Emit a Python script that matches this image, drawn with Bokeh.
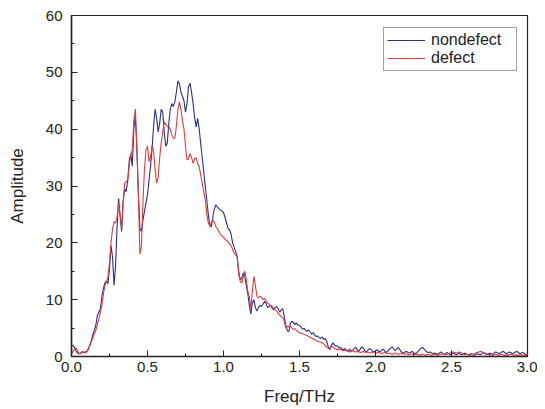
from bokeh.plotting import figure
from bokeh.models import SingleIntervalTicker, NumeralTickFormatter, Legend, LegendItem, Range1d
from bokeh.embed import file_html
from bokeh.resources import INLINE

# Frequency grid (THz), 0.01 step
freq = [round(i * 0.01, 2) for i in range(301)]

nondefect = [
    2.0, 1.9, 1.6, 1.0, 0.6, 0.5, 0.6, 0.8, 0.7, 0.8,
    0.9, 1.3, 2.0, 2.8, 3.8, 4.6, 5.5, 7.2, 7.8, 8.4,
    10.5, 12.0, 13.0, 13.3, 12.8, 15.5, 19.5, 17.5, 12.5, 16.0,
    23.0, 27.8, 24.5, 22.0, 27.5, 29.5, 29.0, 31.0, 34.5, 35.7,
    33.5, 40.0, 42.5, 36.5, 29.0, 22.5, 22.0, 24.0, 25.5, 27.0,
    28.5, 31.0, 33.5, 36.5, 40.5, 43.5, 42.0, 39.5, 41.0, 43.5,
    43.0, 39.5, 37.0, 37.5, 41.0, 43.5, 44.5, 44.0, 44.8, 46.5,
    48.5, 48.0, 46.5, 45.8, 45.0, 43.0, 44.5, 47.5, 48.1, 46.5,
    44.5, 42.0, 40.4, 41.9, 40.0, 37.5, 35.0, 32.5, 30.0, 27.5,
    25.0, 23.0, 22.8, 24.5, 26.0, 26.7, 26.3, 26.0, 25.8, 25.6,
    25.3, 24.5, 23.5, 22.5, 22.3, 21.5, 20.0, 19.2, 18.5, 17.5,
    15.0, 13.5, 13.8, 14.7, 14.2, 12.5, 11.0, 9.0, 7.5, 9.5,
    10.0, 8.6, 8.0, 8.6, 9.0, 8.8, 9.2, 9.7, 9.3, 8.6,
    8.8, 9.0, 8.5, 8.2, 8.6, 8.8, 8.4, 7.8, 8.2, 8.4,
    7.0, 5.5, 4.5, 4.4, 5.8, 6.2, 6.0, 5.6, 5.9, 5.5,
    5.5, 5.2, 4.8, 5.0, 4.6, 4.4, 4.7, 4.3, 4.0, 4.2,
    3.8, 3.5, 3.6, 3.3, 3.2, 3.4, 3.0, 3.1, 2.6, 1.6,
    1.2, 2.0, 2.4, 2.0, 1.8, 1.9, 1.5, 1.6, 1.3, 1.2,
    1.4, 1.1, 1.0, 1.3, 0.9, 1.1, 1.4, 1.6, 1.2, 0.9,
    1.3, 1.7, 1.5, 1.0, 0.8, 1.1, 1.4, 1.2, 0.9, 0.8,
    1.0, 1.2, 0.9, 0.8, 1.1, 1.3, 1.0, 0.7, 0.9, 1.2,
    1.5, 1.7, 1.3, 1.0, 1.4, 1.6, 1.2, 0.8, 0.6, 0.7,
    0.9, 0.8, 0.6, 0.7, 0.9, 0.7, 0.5, 0.6, 0.9, 1.2,
    1.5, 1.6, 1.3, 1.0, 0.8, 0.7, 0.8, 0.6, 0.5, 0.6,
    0.5, 0.4, 0.6, 0.8, 0.6, 0.4, 0.5, 0.7, 0.5, 0.3,
    0.4, 0.6, 0.5, 0.3, 0.4, 0.6, 0.4, 0.3, 0.5, 0.6,
    0.4, 0.3, 0.4, 0.5, 0.3, 0.2, 0.4, 0.5, 0.4, 0.3,
    0.5, 0.7, 0.5, 0.3, 0.4, 0.6, 0.5, 0.4, 0.6, 0.8,
    0.7, 0.5, 0.6, 0.8, 0.9, 0.7, 0.5, 0.6, 0.8, 0.7,
    0.5, 0.6, 0.8, 0.9, 0.7, 0.5, 0.6, 0.7, 0.5, 0.3,
    0.2,
]

defect = [
    0.5, 0.9, 1.3, 1.5, 1.0, 0.5, 0.5, 0.9, 0.8, 0.6,
    0.8, 1.2, 1.8, 2.6, 3.2, 4.0, 4.6, 5.6, 6.6, 7.8,
    9.0, 11.0, 12.5, 13.2, 14.0, 16.5, 20.0, 22.5, 23.7, 23.5,
    24.5, 27.0, 25.0, 22.7, 27.0, 30.5, 30.8, 31.0, 33.5, 35.5,
    36.3, 41.5, 43.6, 37.0, 28.5, 18.0, 19.5, 27.0, 33.0, 36.3,
    37.0, 34.3, 35.0, 37.2, 36.0, 33.0, 30.5, 31.5, 35.0, 37.5,
    39.5, 41.3, 40.8, 40.5, 40.5, 40.0, 39.0, 38.4, 38.4, 40.5,
    43.5, 44.8, 43.5, 41.5, 40.0, 37.0, 34.6, 34.8, 35.7, 35.0,
    34.0, 34.8, 35.0, 34.0, 33.4, 32.0, 30.5, 29.0, 27.5, 25.0,
    23.5, 23.0, 23.5, 24.0, 23.6, 22.8, 22.5, 22.0, 21.5, 21.2,
    21.0, 20.6, 20.4, 20.2, 19.8, 19.5, 18.8, 18.2, 17.9, 17.5,
    14.5, 13.2, 12.9, 14.0, 15.0, 13.5, 11.5, 10.5, 8.5, 11.5,
    14.1, 12.5, 10.6, 10.3, 10.6, 10.4, 10.0, 10.2, 9.8, 9.4,
    9.2, 9.0, 8.8, 8.5, 8.2, 8.0, 7.5, 7.3, 7.0, 6.8,
    6.2, 5.0, 5.3, 5.2, 5.4, 5.0, 4.8, 4.9, 4.6, 4.4,
    4.2, 4.1, 4.0, 3.9, 3.8, 3.7, 3.5, 3.4, 3.2, 3.1,
    3.0, 2.8, 2.7, 2.6, 2.5, 2.4, 2.2, 1.9, 1.6, 1.4,
    1.5, 1.8, 1.7, 1.4, 1.3, 1.2, 1.3, 1.2, 1.1, 1.0,
    1.1, 1.0, 0.9, 0.8, 0.9, 1.0, 0.9, 0.8, 0.9, 0.8,
    0.7, 0.8, 0.9, 0.8, 0.7, 0.8, 0.7, 0.6, 0.7, 0.8,
    0.7, 0.6, 0.7, 0.6, 0.5, 0.6, 0.7, 0.6, 0.5, 0.6,
    0.5, 0.4, 0.5, 0.6, 0.5, 0.4, 0.5, 0.6, 0.5, 0.4,
    0.5, 0.4, 0.3, 0.4, 0.5, 0.4, 0.3, 0.4, 0.3, 0.2,
    0.3, 0.4, 0.3, 0.2, 0.3, 0.4, 0.3, 0.2, 0.3, 0.4,
    0.3, 0.2, 0.3, 0.4, 0.5, 0.4, 0.3, 0.4, 0.5, 0.6,
    0.7, 0.8, 0.7, 0.6, 0.7, 0.8, 0.7, 0.5, 0.4, 0.3,
    0.4, 0.3, 0.2, 0.3, 0.4, 0.5, 0.6, 0.7, 0.8, 0.9,
    0.8, 0.7, 0.6, 0.5, 0.4, 0.3, 0.3, 0.2, 0.3, 0.4,
    0.3, 0.2, 0.3, 0.4, 0.3, 0.2, 0.3, 0.2, 0.3, 0.4,
    0.3, 0.2, 0.3, 0.2, 0.3, 0.2, 0.3, 0.2, 0.3, 0.2,
    0.2,
]

series_names = ["nondefect", "defect"]
series_colors = ["#2b2f86", "#e23c3c"]

FONT = "Liberation Sans"

p = figure(width=537, height=408, output_backend="svg", toolbar_location=None,
           x_range=Range1d(0, 3.0), y_range=Range1d(0, 60),
           min_border_left=71, min_border_right=10, min_border_top=15, min_border_bottom=51)
p.background_fill_color = "white"
p.border_fill_color = "white"
p.outline_line_color = "#222222"
p.outline_line_width = 1.2
p.xgrid.visible = False
p.ygrid.visible = False

r1 = p.line(freq, nondefect, line_color=series_colors[0], line_width=1.1)
r2 = p.line(freq, defect, line_color=series_colors[1], line_width=1.1)

for ax in (p.xaxis[0], p.yaxis[0]):
    ax.axis_line_color = "#222222"
    ax.axis_line_width = 1.5
    ax.major_tick_in = 6
    ax.major_tick_out = 0
    ax.minor_tick_in = 3
    ax.minor_tick_out = 0
    ax.major_tick_line_color = "#222222"
    ax.minor_tick_line_color = "#222222"
    ax.major_label_text_font = FONT
    ax.major_label_text_font_size = "15px"
    ax.major_label_text_color = "#222222"
    ax.axis_label_text_font = FONT
    ax.axis_label_text_font_style = "normal"
    ax.axis_label_text_font_size = "17px"
    ax.axis_label_text_color = "#222222"

p.xaxis[0].ticker = SingleIntervalTicker(interval=0.5, num_minor_ticks=2)
p.xaxis[0].formatter = NumeralTickFormatter(format="0.0")
p.xaxis[0].axis_label = "Freq/THz"
p.xaxis[0].major_label_standoff = 5
p.xaxis[0].axis_label_standoff = 12

p.yaxis[0].ticker = SingleIntervalTicker(interval=10, num_minor_ticks=2)
p.yaxis[0].formatter = NumeralTickFormatter(format="0")
p.yaxis[0].axis_label = "Amplitude"
p.yaxis[0].major_label_standoff = 9
p.yaxis[0].axis_label_standoff = 16

legend = Legend(items=[LegendItem(label=series_names[0], renderers=[r1]),
                       LegendItem(label=series_names[1], renderers=[r2])],
                location=(312, 285), padding=3, spacing=0,
                glyph_width=38, glyph_height=18, label_width=82, label_height=18,
                label_standoff=6, border_line_color="#444444", border_line_width=1,
                background_fill_color="white", background_fill_alpha=1.0,
                label_text_font=FONT, label_text_font_size="16px", label_text_color="#222222")
p.add_layout(legend)

open("out.html", "w").write(file_html(p, INLINE))
